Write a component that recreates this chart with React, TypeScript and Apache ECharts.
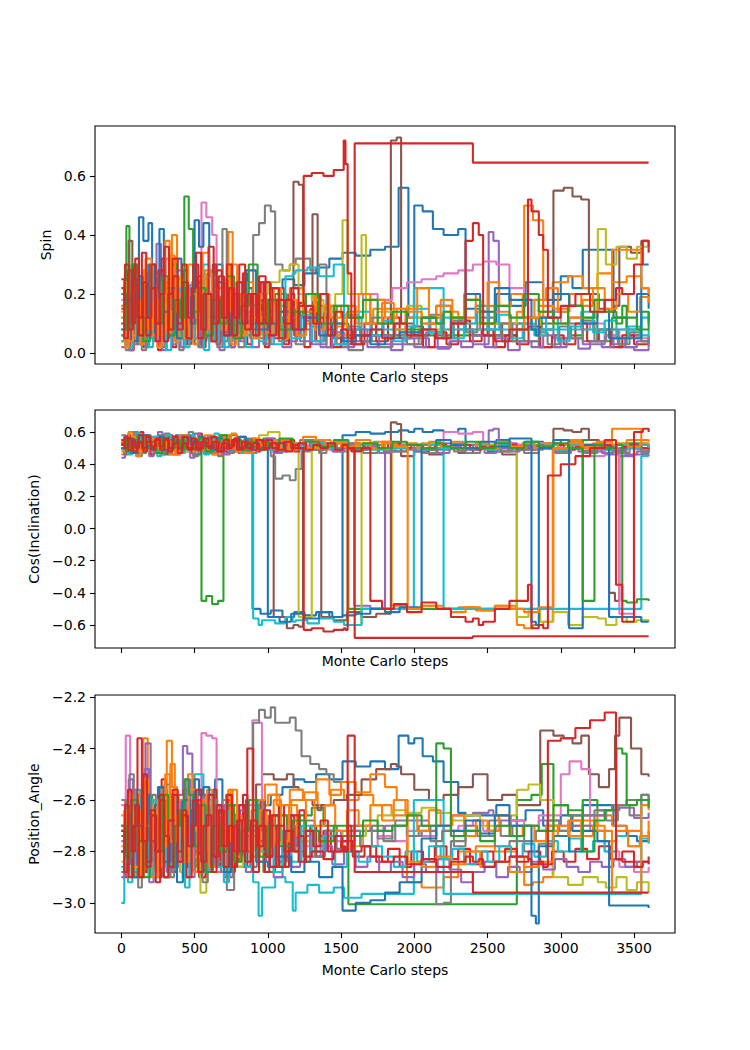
import React, { useEffect, useRef } from "react";
import * as echarts from "echarts";

// Each walker: [step, spin, cos(inclination), position_angle] — state from that step on
const W_BLUE_A = [[0,0.12,0.52,-2.72],[30,0.05,0.48,-2.85],[60,0.22,0.55,-2.62],[95,0.08,0.5,-2.78],[120,0.46,0.57,-2.58],[150,0.38,0.53,-2.66],[185,0.44,0.55,-2.6],[210,0.15,0.49,-2.8],[250,0.28,0.56,-2.55],[290,0.06,0.47,-2.9],[330,0.18,0.52,-2.7],[370,0.32,0.58,-2.6],[410,0.1,0.5,-2.82],[450,0.2,0.54,-2.68],[500,0.03,0.46,-2.88],[540,0.25,0.53,-2.64],[590,0.12,0.57,-2.74],[640,0.3,0.5,-2.52],[690,0.08,0.55,-2.8],[740,0.18,0.48,-2.66],[790,0.05,0.53,-2.86],[840,0.22,0.5,-2.7],[895,0.2,-0.5,-2.7],[950,0.24,-0.53,-2.62],[1020,0.22,-0.51,-2.58],[1100,0.25,-0.55,-2.55],[1180,0.23,-0.52,-2.52],[1250,0.27,-0.54,-2.53],[1330,0.29,-0.52,-2.5],[1420,0.32,-0.55,-2.52],[1510,0.34,0.58,-2.45],[1600,0.33,0.6,-2.47],[1700,0.35,0.59,-2.45],[1800,0.36,0.6,-2.48],[1893,0.56,0.61,-2.35],[1960,0.12,0.6,-2.38],[2000,0.5,0.62,-2.36],[2057,0.48,0.6,-2.43],[2127,0.42,0.61,-2.45],[2200,0.4,0.6,-2.53],[2300,0.42,0.62,-2.65],[2350,0.15,0.52,-2.66],[2450,0.1,0.5,-2.66],[2560,0.2,0.55,-2.62],[2650,0.16,0.5,-2.68],[2760,0.24,0.54,-2.64],[2880,0.18,0.52,-2.7],[3000,0.26,0.55,-2.66],[3080,0.22,0.5,-2.72],[3150,0.35,0.52,-2.62],[3360,0.12,0.5,-2.7],[3450,0.08,0.52,-2.74],[3520,0.2,0.5,-2.76],[3600,0.15,0.48,-2.72]];
const W_ORANGE_A = [[0,0.1,0.46,-2.7],[25,0.2,0.52,-2.6],[60,0.06,0.55,-2.82],[100,0.24,0.49,-2.66],[150,0.14,0.56,-2.36],[180,0.3,0.51,-2.6],[220,0.08,0.47,-2.84],[260,0.2,0.54,-2.62],[310,0.12,0.57,-2.37],[345,0.4,0.5,-2.55],[380,0.16,0.53,-2.72],[420,0.06,0.48,-2.9],[470,0.22,0.55,-2.64],[520,0.1,0.51,-2.78],[570,0.28,0.58,-2.58],[620,0.04,0.46,-2.88],[680,0.18,0.53,-2.7],[730,0.41,0.55,-2.56],[760,0.2,0.5,-2.66],[810,0.08,0.54,-2.84],[860,0.16,0.49,-2.74],[920,0.1,0.52,-2.62],[1000,0.14,0.55,-2.58],[1080,0.08,0.5,-2.66],[1160,0.12,0.53,-2.6],[1250,0.1,0.51,-2.57],[1340,0.16,0.55,-2.62],[1430,0.09,0.5,-2.56],[1520,0.13,0.53,-2.6],[1620,0.1,0.5,-2.58],[1720,0.15,0.54,-2.62],[1845,0.15,-0.48,-2.66],[1950,0.12,-0.5,-2.92],[2050,0.1,-0.48,-2.94],[2200,0.14,-0.5,-2.9],[2300,0.12,-0.49,-2.8],[2420,0.16,-0.51,-2.78],[2550,0.1,-0.48,-2.8],[2700,0.14,-0.6,-2.82],[2750,0.5,-0.62,-2.93],[2810,0.45,-0.6,-2.92],[2880,0.12,-0.58,-2.9],[2945,0.24,0.52,-2.72],[3050,0.26,0.55,-2.68],[3150,0.22,0.5,-2.7],[3250,0.27,0.54,-2.66],[3350,0.24,0.52,-2.7],[3450,0.26,0.55,-2.72],[3550,0.22,0.52,-2.74],[3600,0.2,0.5,-2.68]];
const W_GREEN_A = [[0,0.06,0.5,-2.88],[34,0.43,0.56,-2.76],[55,0.2,0.6,-2.62],[90,0.04,0.52,-2.9],[130,0.16,0.47,-2.7],[170,0.28,0.55,-2.58],[210,0.08,0.5,-2.84],[250,0.22,0.58,-2.66],[290,0.12,0.46,-2.9],[335,0.3,0.53,-2.6],[380,0.05,0.5,-2.8],[420,0.18,0.56,-2.68],[470,0.1,0.49,-2.86],[510,0.24,0.54,-2.64],[547,0.12,-0.45,-2.75],[580,0.1,-0.42,-2.74],[620,0.14,-0.47,-2.78],[660,0.1,-0.45,-2.76],[697,0.2,0.52,-2.62],[740,0.06,0.58,-2.86],[790,0.24,0.5,-2.68],[840,0.1,0.55,-2.8],[900,0.16,0.51,-2.7],[970,0.06,0.56,-2.88],[1050,0.2,0.5,-2.66],[1130,0.1,0.53,-2.74],[1220,0.14,0.5,-2.66],[1300,0.12,0.55,-2.63],[1380,0.16,0.52,-2.7],[1470,0.1,0.5,-2.74],[1550,0.06,-0.5,-3.005],[2700,0.1,0.52,-2.6],[2800,0.12,0.5,-2.58],[2870,0.08,0.53,-2.46],[2950,0.14,0.5,-2.62],[3050,0.06,0.52,-2.66],[3150,0.1,0.55,-2.6],[3250,0.04,0.51,-2.64],[3350,0.12,0.5,-2.62],[3450,0.06,0.53,-2.6],[3550,0.14,0.5,-2.58],[3600,0.1,0.52,-2.6]];
const W_RED_A = [[0,0.22,0.52,-2.72],[20,0.05,0.57,-2.88],[45,0.28,0.49,-2.56],[70,0.1,0.55,-2.8],[95,0.32,0.5,-2.62],[120,0.06,0.58,-2.9],[150,0.24,0.48,-2.5],[175,0.12,0.54,-2.84],[205,0.3,0.51,-2.66],[235,0.04,0.56,-2.92],[265,0.2,0.49,-2.6],[295,0.36,0.55,-2.74],[325,0.08,0.5,-2.86],[355,0.26,0.57,-2.58],[385,0.1,0.47,-2.8],[415,0.3,0.53,-2.64],[445,0.05,0.5,-2.9],[480,0.22,0.56,-2.7],[510,0.34,0.49,-2.56],[545,0.08,0.54,-2.84],[580,0.2,0.51,-2.66],[615,0.04,0.57,-2.88],[650,0.28,0.48,-2.62],[685,0.12,0.53,-2.78],[720,0.3,0.5,-2.58],[755,0.06,0.55,-2.86],[790,0.24,0.49,-2.68],[825,0.1,0.54,-2.8],[860,0.2,0.5,-2.4],[900,0.06,0.53,-2.88],[940,0.26,0.49,-2.7],[985,0.1,0.55,-2.82],[1030,0.22,0.5,-2.66],[1075,0.05,0.53,-2.86],[1120,0.18,0.48,-2.72],[1170,0.08,0.52,-2.8],[1210,0.16,0.5,-2.74],[1245,0.6,-0.63,-2.82],[1300,0.61,-0.62,-2.8],[1380,0.6,-0.64,-2.83],[1450,0.62,-0.63,-2.8],[1518,0.72,-0.62,-2.78],[1530,0.64,-0.63,-2.8],[1545,0.27,0.5,-2.7],[1570,0.03,0.48,-2.8],[1640,0.06,0.5,-2.78],[1700,0.08,-0.45,-2.82],[1780,0.05,-0.5,-2.84],[1860,0.1,-0.47,-2.82],[1950,0.06,-0.52,-2.85],[2050,0.08,-0.46,-2.83],[2150,0.05,-0.5,-2.86],[2250,0.1,-0.55,-2.84],[2350,0.38,-0.58,-2.82],[2400,0.44,-0.56,-2.84],[2440,0.4,-0.6,-2.83],[2470,0.06,-0.58,-2.86],[2550,0.04,-0.5,-2.84],[2650,0.08,-0.45,-2.82],[2776,0.52,-0.35,-2.83],[2800,0.48,-0.62,-2.85],[2850,0.4,-0.6,-2.84],[2880,0.35,-0.62,-2.86],[2912,0.12,0.33,-2.37],[3000,0.16,0.4,-2.36],[3100,0.2,0.45,-2.32],[3200,0.14,0.5,-2.29],[3300,0.18,0.55,-2.26],[3377,0.22,-0.35,-2.83],[3420,0.2,-0.58,-2.84],[3500,0.3,0.6,-2.86],[3560,0.38,0.62,-2.84],[3600,0.34,0.6,-2.85]];
const W_PURPLE = [[0,0.04,0.53,-2.76],[40,0.14,0.48,-2.64],[85,0.06,0.55,-2.84],[130,0.2,0.5,-2.56],[165,0.1,0.57,-2.38],[200,0.24,0.51,-2.6],[240,0.37,0.54,-2.66],[270,0.12,0.47,-2.8],[310,0.2,0.53,-2.7],[350,0.06,0.49,-2.86],[390,0.16,0.56,-2.58],[420,0.1,0.52,-2.39],[450,0.22,0.55,-2.42],[485,0.05,0.48,-2.78],[530,0.18,0.54,-2.68],[580,0.08,0.5,-2.82],[630,0.14,0.56,-2.66],[680,0.04,0.51,-2.88],[730,0.12,0.55,-2.72],[790,0.06,0.49,-2.8],[850,0.16,0.54,-2.68],[920,0.05,0.5,-2.76],[1000,0.1,0.53,-2.82],[1100,0.04,0.5,-2.78],[1200,0.08,0.52,-2.74],[1300,0.03,0.49,-2.8],[1400,0.06,0.53,-2.72],[1500,0.02,0.5,-2.76],[1590,0.04,-0.48,-2.7],[1700,0.06,-0.5,-2.72],[1800,0.03,0.48,-2.7],[1950,0.05,0.5,-2.68],[2100,0.02,0.53,-2.7],[2250,0.04,0.5,-2.66],[2400,0.03,0.52,-2.65],[2508,0.41,0.61,-2.64],[2540,0.38,0.62,-2.66],[2577,0.1,0.53,-2.68],[2700,0.04,0.5,-2.7],[2850,0.02,0.52,-2.68],[3000,0.05,0.5,-2.7],[3150,0.03,0.48,-2.66],[3300,0.06,0.46,-2.64],[3400,0.02,0.45,-2.63],[3500,0.01,0.46,-2.67],[3600,0.02,0.45,-2.65]];
const W_BROWN = [[0,0.1,0.5,-2.74],[50,0.38,0.55,-2.6],[75,0.12,0.48,-2.82],[115,0.2,0.54,-2.66],[160,0.06,0.58,-2.88],[200,0.16,0.5,-2.7],[245,0.1,0.53,-2.8],[290,0.24,0.47,-2.62],[335,0.06,0.55,-2.86],[380,0.18,0.51,-2.72],[430,0.1,0.56,-2.78],[480,0.22,0.5,-2.64],[530,0.04,0.54,-2.9],[580,0.16,0.48,-2.7],[630,0.08,0.55,-2.8],[690,0.2,0.51,-2.66],[740,0.06,0.53,-2.84],[800,0.14,0.5,-2.72],[860,0.08,0.55,-2.6],[920,0.12,0.51,-2.54],[960,0.18,0.53,-2.5],[1040,0.14,-0.55,-2.52],[1130,0.12,-0.62,-2.5],[1175,0.58,-0.6,-2.55],[1210,0.57,-0.61,-2.56],[1240,0.12,0.5,-2.6],[1305,0.47,0.52,-2.62],[1340,0.1,0.5,-2.64],[1365,0.08,-0.55,-2.62],[1450,0.05,-0.57,-2.6],[1540,0.08,-0.52,-2.58],[1640,0.06,-0.55,-2.52],[1740,0.1,-0.53,-2.48],[1840,0.72,0.66,-2.46],[1880,0.73,0.65,-2.47],[1910,0.1,0.45,-2.5],[2000,0.06,0.48,-2.56],[2100,0.1,0.46,-2.6],[2200,0.05,0.5,-2.58],[2300,0.08,0.47,-2.55],[2400,0.06,0.5,-2.5],[2500,0.1,0.48,-2.6],[2600,0.04,0.46,-2.58],[2700,0.08,0.5,-2.62],[2860,0.1,0.52,-2.33],[2950,0.55,0.62,-2.35],[3020,0.56,0.61,-2.36],[3080,0.53,0.6,-2.38],[3140,0.52,0.62,-2.35],[3192,0.2,0.55,-2.5],[3260,0.15,0.5,-2.55],[3330,0.14,-0.4,-2.48],[3370,0.16,-0.45,-2.35],[3400,0.36,0.5,-2.28],[3480,0.34,0.52,-2.4],[3550,0.38,0.5,-2.5],[3600,0.36,0.51,-2.51]];
const W_PINK = [[0,0.18,0.5,-2.62],[30,0.06,0.56,-2.35],[60,0.22,0.49,-2.7],[100,0.1,0.54,-2.84],[140,0.28,0.5,-2.6],[180,0.08,0.57,-2.78],[220,0.2,0.48,-2.66],[260,0.12,0.55,-2.86],[300,0.32,0.51,-2.62],[340,0.06,0.53,-2.8],[385,0.18,0.49,-2.7],[430,0.1,0.56,-2.76],[480,0.24,0.5,-2.64],[520,0.08,0.54,-2.82],[547,0.51,0.52,-2.34],[580,0.46,0.55,-2.35],[620,0.4,0.5,-2.36],[650,0.12,0.53,-2.7],[700,0.2,0.49,-2.8],[750,0.06,0.55,-2.66],[800,0.16,0.5,-2.76],[850,0.1,0.53,-2.62],[895,0.2,0.5,-2.29],[940,0.14,0.52,-2.3],[960,0.1,0.49,-2.72],[1050,0.14,0.53,-2.76],[1150,0.08,0.5,-2.72],[1250,0.12,0.52,-2.78],[1350,0.1,0.49,-2.74],[1450,0.16,0.53,-2.76],[1550,0.12,0.5,-2.72],[1650,0.2,0.52,-2.78],[1750,0.18,0.5,-2.74],[1850,0.22,0.52,-2.76],[1950,0.24,0.5,-2.72],[2050,0.25,0.53,-2.74],[2150,0.26,0.52,-2.7],[2200,0.27,0.6,-2.72],[2300,0.28,0.59,-2.7],[2400,0.3,0.6,-2.68],[2470,0.31,0.52,-2.72],[2560,0.3,0.5,-2.7],[2650,0.22,0.52,-2.68],[2750,0.18,0.5,-2.7],[2850,0.14,0.53,-2.66],[3000,0.1,0.5,-2.5],[3060,0.12,0.52,-2.45],[3140,0.08,0.5,-2.48],[3200,0.1,0.45,-2.72],[3300,0.06,0.5,-2.8],[3400,0.08,-0.53,-2.86],[3500,0.05,0.5,-2.88],[3600,0.06,0.52,-2.86]];
const W_GRAY = [[0,0.06,0.52,-2.8],[35,0.2,0.47,-2.64],[75,0.1,0.55,-2.88],[115,0.26,0.5,-2.58],[155,0.04,0.53,-2.78],[195,0.18,0.49,-2.7],[240,0.08,0.56,-2.84],[285,0.22,0.5,-2.62],[330,0.12,0.54,-2.76],[375,0.28,0.48,-2.66],[420,0.06,0.53,-2.9],[465,0.16,0.5,-2.7],[510,0.1,0.55,-2.82],[560,0.2,0.47,-2.64],[610,0.08,0.52,-2.86],[660,0.14,0.45,-2.72],[690,0.42,0.5,-2.6],[720,0.12,0.47,-2.95],[770,0.2,0.52,-2.7],[830,0.1,0.49,-2.8],[900,0.4,0.55,-2.3],[940,0.44,0.5,-2.25],[980,0.5,0.52,-2.28],[1020,0.48,0.45,-2.24],[1050,0.3,0.31,-2.3],[1100,0.28,0.33,-2.3],[1150,0.3,0.3,-2.28],[1190,0.32,0.37,-2.33],[1230,0.32,0.48,-2.43],[1290,0.28,0.5,-2.46],[1350,0.3,0.47,-2.48],[1400,0.02,0.5,-2.5],[1450,0.03,0.48,-2.53],[1550,0.01,0.5,-2.7],[1650,0.04,0.47,-2.72],[1750,0.02,0.5,-2.75],[1850,0.06,0.48,-2.7],[1950,0.03,0.5,-2.74],[2050,0.08,0.47,-2.72],[2150,0.05,0.5,-3.005],[2200,0.06,0.49,-3.0],[2250,0.1,0.5,-2.76],[2350,0.08,0.47,-2.72],[2450,0.12,0.5,-2.74],[2550,0.06,0.48,-2.78],[2650,0.1,0.5,-2.76],[2750,0.04,0.47,-2.8],[2850,0.08,0.5,-2.77],[2950,0.05,0.48,-2.74],[3050,0.1,0.5,-2.7],[3150,0.04,0.47,-2.66],[3250,0.08,0.5,-2.64],[3350,0.03,0.48,-2.62],[3450,0.06,0.5,-2.6],[3550,0.04,0.47,-2.58],[3600,0.05,0.48,-2.6]];
const W_OLIVE = [[0,0.12,0.55,-2.84],[30,0.24,0.5,-2.66],[70,0.06,0.53,-2.9],[110,0.18,0.48,-2.7],[150,0.1,0.56,-2.8],[190,0.3,0.51,-2.6],[230,0.08,0.54,-2.86],[270,0.2,0.49,-2.68],[310,0.12,0.56,-2.78],[355,0.26,0.5,-2.62],[400,0.06,0.54,-2.88],[440,0.18,0.48,-2.72],[490,0.1,0.55,-2.82],[540,0.22,0.5,-2.96],[580,0.08,0.53,-2.74],[630,0.16,0.49,-2.8],[680,0.1,0.56,-2.68],[730,0.24,0.51,-2.76],[780,0.08,0.54,-2.86],[830,0.2,0.5,-2.7],[880,0.12,0.55,-2.78],[940,0.2,0.58,-2.66],[1000,0.24,0.6,-2.7],[1080,0.28,0.55,-2.74],[1150,0.3,0.52,-2.72],[1210,0.2,-0.55,-2.76],[1300,0.18,0.5,-2.8],[1380,0.14,0.52,-2.76],[1460,0.2,0.5,-2.74],[1510,0.45,0.53,-2.72],[1545,0.2,-0.6,-2.78],[1640,0.4,0.5,-2.74],[1670,0.1,0.52,-2.7],[1750,0.14,0.5,-2.66],[1850,0.1,0.52,-2.64],[1950,0.16,0.5,-2.65],[2050,0.12,0.53,-2.63],[2150,0.08,0.5,-2.65],[2250,0.12,0.52,-2.68],[2350,0.1,0.5,-2.66],[2450,0.14,0.52,-2.7],[2550,0.1,0.5,-2.66],[2700,0.12,-0.55,-2.56],[2780,0.08,-0.5,-2.54],[2860,0.14,-0.58,-2.6],[2950,0.1,-0.52,-2.9],[3050,0.16,-0.6,-2.93],[3150,0.12,-0.55,-2.9],[3253,0.42,-0.56,-2.92],[3308,0.3,-0.6,-2.94],[3380,0.36,-0.55,-2.9],[3450,0.32,-0.58,-2.95],[3520,0.36,-0.57,-2.92],[3600,0.38,-0.58,-2.96]];
const W_CYAN = [[0,0.16,0.5,-3.0],[20,0.08,0.55,-2.7],[55,0.24,0.49,-2.82],[95,0.1,0.54,-2.6],[135,0.2,0.5,-2.78],[175,0.06,0.56,-2.66],[220,0.26,0.48,-2.86],[265,0.12,0.53,-2.58],[310,0.18,0.5,-2.74],[355,0.08,0.55,-2.84],[400,0.22,0.49,-2.64],[450,0.1,0.54,-2.8],[500,0.14,0.5,-2.5],[560,0.3,0.53,-2.62],[600,0.26,0.48,-2.76],[640,0.08,0.55,-2.86],[690,0.2,0.5,-2.68],[740,0.12,0.54,-2.8],[800,0.18,0.49,-2.7],[850,0.06,0.53,-2.84],[900,0.1,-0.56,-2.92],[937,0.12,-0.6,-3.05],[960,0.1,-0.57,-2.94],[1050,0.16,-0.59,-2.9],[1120,0.26,-0.55,-2.92],[1170,0.27,-0.58,-3.03],[1190,0.28,-0.57,-2.96],[1270,0.29,-0.59,-2.93],[1350,0.26,-0.56,-2.96],[1450,0.3,-0.58,-2.94],[1520,0.12,-0.6,-2.98],[1640,0.08,-0.5,-2.965],[1997,0.22,0.5,-2.6],[2200,0.08,-0.5,-2.965],[3550,0.12,0.45,-2.6],[3600,0.12,0.45,-2.6]];
const W_PURPLE_B = [[0,0.02,0.44,-2.9],[25,0.1,0.52,-2.7],[50,0.01,0.6,-2.52],[80,0.14,0.47,-2.86],[105,0.03,0.55,-2.62],[135,0.2,0.5,-2.78],[160,0.02,0.58,-2.48],[190,0.12,0.45,-2.92],[220,0.04,0.53,-2.66],[250,0.18,0.6,-2.8],[280,0.01,0.48,-2.56],[310,0.1,0.54,-2.88],[345,0.03,0.46,-2.7],[375,0.15,0.57,-2.6],[405,0.02,0.5,-2.84],[440,0.22,0.55,-2.52],[470,0.05,0.44,-2.9],[500,0.12,0.59,-2.68],[535,0.02,0.51,-2.8],[565,0.17,0.47,-2.58],[600,0.04,0.56,-2.86],[635,0.13,0.5,-2.72],[670,0.01,0.58,-2.62],[705,0.09,0.46,-2.9],[740,0.02,0.53,-2.7],[775,0.16,0.49,-2.82],[810,0.04,0.57,-2.64],[850,0.11,0.48,-2.88],[890,0.02,0.54,-2.72],[940,0.14,0.5,-2.84],[990,0.03,0.56,-2.68],[1040,0.1,0.47,-2.9],[1100,0.02,0.53,-2.76],[1160,0.12,0.49,-2.86],[1220,0.04,0.55,-2.74],[1290,0.09,0.5,-2.82],[1360,0.02,0.53,-2.78],[1440,0.07,0.48,-2.85],[1520,0.03,0.52,-2.8],[1600,0.08,0.49,-2.86],[1680,0.02,0.51,-2.82],[1760,0.06,0.47,-2.88],[1840,0.01,0.5,-2.84],[1920,0.05,0.52,-2.9],[2000,0.02,0.48,-2.85],[2080,0.07,0.5,-2.88],[2160,0.015,0.47,-2.83],[2240,0.04,0.51,-2.87],[2320,0.02,0.49,-2.92],[2400,0.06,0.5,-2.88],[2480,0.02,0.47,-2.84],[2560,0.05,0.5,-2.9],[2640,0.01,0.48,-2.86],[2720,0.04,0.51,-2.88],[2800,0.02,0.49,-2.84],[2880,0.06,0.5,-2.87],[2960,0.02,0.47,-2.83],[3040,0.05,0.5,-2.86],[3120,0.015,0.48,-2.88],[3200,0.04,0.5,-2.84],[3280,0.02,0.47,-2.86],[3360,0.05,0.49,-2.83],[3440,0.02,0.46,-2.86],[3520,0.04,0.48,-2.84],[3600,0.02,0.47,-2.85]];
const W_GRAY_B = [[0,0.08,0.58,-2.6],[30,0.01,0.47,-2.84],[55,0.16,0.53,-2.5],[85,0.03,0.6,-2.76],[115,0.12,0.45,-2.94],[140,0.01,0.52,-2.66],[170,0.24,0.57,-2.82],[200,0.05,0.49,-2.58],[235,0.15,0.55,-2.88],[265,0.02,0.46,-2.7],[295,0.2,0.59,-2.54],[330,0.06,0.51,-2.9],[360,0.13,0.56,-2.66],[395,0.01,0.48,-2.8],[425,0.19,0.54,-2.6],[460,0.04,0.6,-2.86],[490,0.11,0.45,-2.72],[525,0.02,0.55,-2.56],[555,0.16,0.5,-2.92],[590,0.05,0.57,-2.7],[620,0.21,0.47,-2.6],[655,0.02,0.53,-2.84],[690,0.12,0.58,-2.66],[725,0.04,0.48,-2.9],[760,0.18,0.55,-2.62],[800,0.02,0.5,-2.8],[840,0.14,0.56,-2.7],[880,0.05,0.47,-2.86],[925,0.17,0.53,-2.6],[970,0.03,0.5,-2.78],[1020,0.12,0.55,-2.66],[1075,0.04,0.48,-2.84],[1130,0.15,0.53,-2.7],[1190,0.03,0.5,-2.8],[1250,0.11,0.55,-2.68],[1320,0.04,0.49,-2.82],[1390,0.1,0.53,-2.72],[1470,0.03,0.5,-2.79],[1550,0.09,0.53,-2.72],[1630,0.04,0.49,-2.78],[1710,0.12,0.52,-2.7],[1790,0.06,0.48,-2.76],[1870,0.1,0.51,-2.68],[1950,0.03,0.49,-2.74],[2030,0.08,0.52,-2.7],[2110,0.13,0.49,-2.76],[2190,0.05,0.51,-2.72],[2270,0.11,0.48,-2.78],[2350,0.07,0.5,-2.7],[2430,0.14,0.53,-2.74],[2510,0.06,0.5,-2.68],[2590,0.1,0.48,-2.74],[2670,0.04,0.51,-2.7],[2750,0.12,0.49,-2.76],[2830,0.07,0.52,-2.72],[2910,0.03,0.5,-2.68],[2990,0.09,0.47,-2.72],[3070,0.05,0.5,-2.66],[3150,0.11,0.48,-2.7],[3230,0.04,0.51,-2.64],[3310,0.08,0.49,-2.68],[3390,0.03,0.47,-2.62],[3470,0.07,0.5,-2.66],[3550,0.04,0.48,-2.6],[3600,0.06,0.49,-2.62]];
const W_CYAN_B = [[0,0.04,0.5,-2.86],[20,0.18,0.56,-2.64],[45,0.02,0.46,-2.92],[75,0.12,0.53,-2.7],[100,0.26,0.59,-2.56],[130,0.05,0.48,-2.84],[155,0.15,0.54,-2.66],[185,0.02,0.5,-2.9],[215,0.21,0.57,-2.6],[245,0.06,0.45,-2.8],[275,0.14,0.53,-2.7],[305,0.01,0.58,-2.86],[340,0.18,0.49,-2.58],[370,0.04,0.55,-2.82],[400,0.11,0.47,-2.68],[435,0.02,0.52,-2.94],[465,0.23,0.58,-2.62],[500,0.05,0.5,-2.78],[530,0.13,0.55,-2.66],[565,0.01,0.46,-2.88],[600,0.17,0.53,-2.6],[635,0.04,0.59,-2.82],[665,0.12,0.49,-2.7],[700,0.02,0.54,-2.92],[735,0.2,0.5,-2.64],[770,0.05,0.56,-2.8],[810,0.13,0.47,-2.7],[850,0.02,0.53,-2.86],[895,0.16,0.5,-2.62],[940,0.04,0.55,-2.8],[990,0.14,0.49,-2.7],[1040,0.03,0.54,-2.88],[1100,0.12,0.5,-2.72],[1160,0.05,0.53,-2.84],[1230,0.13,0.49,-2.7],[1300,0.04,0.54,-2.8],[1380,0.1,0.5,-2.74],[1460,0.03,0.53,-2.86],[1540,0.08,0.5,-2.8],[1620,0.14,0.52,-2.84],[1700,0.06,0.49,-2.78],[1780,0.11,0.53,-2.82],[1860,0.04,0.5,-2.86],[1940,0.09,0.52,-2.8],[2020,0.15,0.49,-2.84],[2100,0.07,0.52,-2.78],[2180,0.12,0.5,-2.83],[2260,0.05,0.53,-2.79],[2340,0.1,0.5,-2.85],[2420,0.16,0.52,-2.8],[2500,0.08,0.49,-2.84],[2580,0.13,0.52,-2.78],[2660,0.05,0.5,-2.82],[2740,0.1,0.53,-2.77],[2820,0.06,0.5,-2.82],[2900,0.12,0.52,-2.76],[2980,0.04,0.49,-2.8],[3060,0.09,0.52,-2.75],[3140,0.14,0.5,-2.8],[3220,0.07,0.52,-2.76],[3300,0.11,0.49,-2.8],[3380,0.05,0.52,-2.74],[3460,0.09,0.5,-2.78],[3540,0.06,0.52,-2.75],[3600,0.08,0.5,-2.77]];
const W_ORANGE_C = [[0,0.14,0.48,-2.66],[25,0.02,0.55,-2.88],[50,0.25,0.6,-2.58],[75,0.06,0.5,-2.8],[100,0.18,0.45,-2.64],[130,0.03,0.54,-2.9],[155,0.28,0.58,-2.52],[185,0.08,0.49,-2.76],[215,0.17,0.55,-2.62],[245,0.02,0.47,-2.86],[275,0.24,0.56,-2.56],[305,0.07,0.5,-2.78],[335,0.33,0.53,-2.46],[365,0.04,0.46,-2.84],[395,0.2,0.58,-2.6],[425,0.09,0.51,-2.74],[455,0.3,0.55,-2.5],[490,0.03,0.48,-2.88],[520,0.22,0.57,-2.64],[555,0.06,0.5,-2.8],[585,0.27,0.54,-2.56],[620,0.04,0.46,-2.86],[650,0.19,0.56,-2.66],[685,0.08,0.5,-2.78],[715,0.25,0.53,-2.58],[750,0.03,0.59,-2.84],[785,0.2,0.48,-2.66],[820,0.06,0.54,-2.8],[860,0.24,0.5,-2.6],[900,0.05,0.56,-2.82],[945,0.2,0.49,-2.64],[990,0.07,0.54,-2.78],[1040,0.22,0.5,-2.6],[1090,0.05,0.55,-2.76],[1145,0.18,0.49,-2.62],[1200,0.06,0.53,-2.74],[1260,0.2,0.5,-2.6],[1320,0.08,0.55,-2.7],[1390,0.16,0.51,-2.62],[1460,0.06,0.54,-2.72],[1540,0.14,0.5,-2.64],[1620,0.2,0.53,-2.7],[1700,0.1,0.5,-2.62],[1780,0.17,0.54,-2.68],[1860,0.08,0.51,-2.6],[1940,0.15,0.53,-2.66],[2020,0.22,0.5,-2.72],[2100,0.12,0.54,-2.64],[2180,0.18,0.51,-2.7],[2260,0.1,0.54,-2.66],[2340,0.2,0.5,-2.74],[2420,0.14,0.53,-2.68],[2500,0.24,0.5,-2.72],[2580,0.16,0.54,-2.66],[2660,0.2,0.51,-2.74],[2740,0.12,0.53,-2.7],[2820,0.18,0.5,-2.76],[2900,0.22,0.53,-2.7],[2980,0.14,0.5,-2.74],[3060,0.2,0.54,-2.68],[3140,0.16,0.51,-2.74],[3220,0.22,0.53,-2.7],[3300,0.15,0.5,-2.76],[3380,0.2,0.53,-2.72],[3460,0.14,0.51,-2.78],[3540,0.19,0.53,-2.74],[3600,0.17,0.52,-2.76]];
const W_RED_C = [[0,0.25,0.53,-2.7],[20,0.04,0.46,-2.9],[40,0.2,0.58,-2.6],[60,0.01,0.51,-2.82],[85,0.3,0.55,-2.56],[105,0.08,0.47,-2.78],[130,0.22,0.6,-2.64],[150,0.02,0.5,-2.88],[175,0.27,0.54,-2.58],[200,0.06,0.46,-2.84],[225,0.18,0.57,-2.66],[250,0.01,0.5,-2.9],[275,0.32,0.55,-2.52],[300,0.05,0.48,-2.8],[325,0.24,0.58,-2.62],[350,0.02,0.51,-2.88],[375,0.2,0.46,-2.66],[400,0.07,0.55,-2.82],[425,0.28,0.5,-2.56],[450,0.03,0.57,-2.86],[475,0.18,0.47,-2.64],[500,0.05,0.53,-2.8],[525,0.26,0.59,-2.6],[550,0.02,0.49,-2.9],[575,0.21,0.55,-2.62],[600,0.06,0.47,-2.84],[625,0.3,0.54,-2.56],[650,0.03,0.5,-2.86],[675,0.19,0.57,-2.64],[700,0.07,0.48,-2.8],[725,0.25,0.55,-2.6],[750,0.02,0.5,-2.88],[775,0.2,0.56,-2.66],[800,0.05,0.47,-2.82],[830,0.27,0.54,-2.58],[860,0.03,0.5,-2.86],[890,0.2,0.56,-2.64],[920,0.06,0.48,-2.8],[950,0.24,0.54,-2.6],[980,0.02,0.5,-2.88],[1010,0.18,0.55,-2.66],[1040,0.05,0.48,-2.82],[1075,0.22,0.53,-2.62],[1110,0.03,0.5,-2.86],[1145,0.2,0.55,-2.66],[1180,0.06,0.48,-2.8],[1215,0.17,0.53,-2.64],[1250,0.02,0.5,-2.84],[1290,0.15,0.54,-2.7],[1330,0.04,0.49,-2.82],[1380,0.12,0.53,-2.72],[1430,0.02,0.5,-2.8],[1500,0.08,0.52,-2.76],[1580,0.03,0.49,-2.82],[1660,0.1,0.52,-2.78],[1740,0.04,0.5,-2.84],[1820,0.12,0.53,-2.79],[1900,0.05,0.5,-2.86],[1980,0.09,0.52,-2.8],[2060,0.02,0.49,-2.84],[2140,0.07,0.52,-2.78],[2220,0.03,0.5,-2.83],[2300,0.11,0.52,-2.79],[2380,0.04,0.49,-2.85],[2460,0.08,0.51,-2.8],[2540,0.02,0.5,-2.84],[2620,0.06,0.52,-2.79],[2700,0.03,0.49,-2.84],[2780,0.09,0.51,-2.8],[2860,0.02,0.5,-2.85],[2940,0.06,0.52,-2.8],[3020,0.03,0.49,-2.84],[3100,0.1,0.51,-2.79],[3180,0.04,0.5,-2.83],[3260,0.08,0.52,-2.78],[3340,0.02,0.49,-2.83],[3420,0.06,0.51,-2.8],[3500,0.03,0.5,-2.84],[3600,0.05,0.51,-2.82]];
const W_BLUE_B = [[0,0.08,0.5,-2.8],[35,0.18,0.56,-2.66],[70,0.04,0.47,-2.9],[110,0.26,0.53,-2.7],[145,0.12,0.58,-2.58],[190,0.3,0.5,-2.76],[230,0.07,0.54,-2.62],[260,0.42,0.57,-2.55],[290,0.14,0.49,-2.84],[335,0.22,0.55,-2.68],[380,0.05,0.51,-2.92],[420,0.19,0.58,-2.6],[470,0.1,0.5,-2.78],[500,0.45,0.55,-2.52],[530,0.36,0.57,-2.58],[560,0.44,0.53,-2.55],[600,0.12,0.49,-2.82],[650,0.24,0.56,-2.64],[700,0.06,0.5,-2.88],[750,0.2,0.54,-2.7],[800,0.1,0.57,-2.8],[850,0.28,0.51,-2.6],[920,0.08,0.55,-2.84],[1000,0.1,-0.55,-2.86],[1080,0.14,-0.58,-2.82],[1160,0.08,-0.53,-2.88],[1250,0.12,-0.56,-2.84],[1350,0.06,-0.52,-2.9],[1440,0.1,-0.55,-2.86],[1510,0.04,-0.54,-3.03],[1600,0.06,-0.53,-3.0],[1700,0.03,-0.5,-2.99],[1800,0.05,-0.52,-2.96],[1900,0.07,-0.49,-2.92],[2050,0.12,0.5,-2.75],[2150,0.16,0.55,-2.7],[2250,0.1,0.52,-2.72],[2350,0.2,0.5,-2.68],[2450,0.14,0.54,-2.73],[2550,0.22,0.51,-2.66],[2650,0.18,0.56,-2.7],[2800,0.08,-0.58,-3.05],[2830,0.06,-0.6,-3.08],[2850,0.12,0.5,-2.78],[2950,0.2,0.55,-2.74],[3057,0.16,-0.62,-2.8],[3150,0.1,0.52,-2.72],[3250,0.14,0.5,-2.76],[3330,0.05,-0.55,-3.01],[3550,0.3,-0.58,-3.01],[3600,0.3,-0.58,-3.02]];
const W_ORANGE_B = [[0,0.16,0.54,-2.78],[40,0.04,0.5,-2.64],[80,0.22,0.57,-2.86],[120,0.1,0.48,-2.58],[165,0.32,0.53,-2.7],[205,0.06,0.56,-2.9],[250,0.18,0.5,-2.6],[300,0.38,0.55,-2.5],[330,0.14,0.46,-2.76],[375,0.25,0.52,-2.66],[425,0.05,0.58,-2.84],[460,0.2,0.51,-2.56],[510,0.12,0.54,-2.72],[555,0.34,0.49,-2.6],[600,0.08,0.55,-2.86],[650,0.22,0.52,-2.64],[700,0.14,0.58,-2.76],[745,0.3,0.5,-2.56],[790,0.06,0.53,-2.82],[840,0.2,0.47,-2.68],[900,0.12,0.52,-2.6],[980,0.18,0.55,-2.54],[1060,0.1,0.5,-2.62],[1150,0.22,0.53,-2.56],[1240,0.14,0.57,-2.6],[1330,0.2,0.5,-2.52],[1420,0.12,0.53,-2.58],[1500,0.16,0.51,-2.53],[1600,0.1,0.55,-2.57],[1700,0.18,0.5,-2.5],[1800,0.12,0.53,-2.55],[1880,0.15,0.51,-2.6],[1955,0.14,-0.5,-2.84],[2050,0.1,-0.48,-2.86],[2150,0.16,-0.5,-2.82],[2250,0.12,-0.52,-2.85],[2350,0.18,-0.49,-2.8],[2450,0.1,-0.51,-2.86],[2550,0.14,-0.48,-2.84],[2650,0.08,-0.5,-2.88],[2750,0.12,-0.52,-2.86],[2850,0.16,-0.49,-2.84],[2950,0.15,0.5,-2.7],[3050,0.12,0.53,-2.74],[3150,0.18,0.5,-2.68],[3250,0.14,0.54,-2.72],[3350,0.35,0.62,-2.96],[3550,0.22,0.55,-2.62],[3600,0.2,0.54,-2.64]];
const W_GREEN_B = [[0,0.2,0.55,-2.7],[30,0.08,0.48,-2.82],[70,0.3,0.53,-2.6],[110,0.12,0.58,-2.76],[150,0.04,0.5,-2.9],[195,0.22,0.54,-2.66],[240,0.1,0.47,-2.8],[280,0.26,0.56,-2.58],[320,0.06,0.5,-2.86],[365,0.18,0.55,-2.7],[400,0.12,0.49,-2.64],[430,0.53,0.57,-2.52],[460,0.42,0.54,-2.58],[490,0.14,0.5,-2.78],[530,0.22,0.56,-2.62],[575,0.06,0.48,-2.88],[625,0.18,0.54,-2.7],[675,0.1,0.58,-2.8],[720,0.26,0.52,-2.62],[770,0.05,0.55,-2.84],[820,0.16,0.49,-2.72],[870,0.3,0.54,-2.6],[930,0.1,0.5,-2.82],[1000,0.18,0.53,-2.7],[1080,0.08,0.56,-2.78],[1170,0.14,0.5,-2.68],[1260,0.2,0.54,-2.72],[1350,0.1,0.51,-2.76],[1450,0.16,0.55,-2.7],[1550,0.12,0.5,-2.74],[1650,0.18,0.53,-2.68],[1750,0.1,0.5,-2.72],[1850,0.14,0.54,-2.7],[1950,0.08,0.52,-2.66],[2050,0.12,0.5,-2.7],[2150,0.1,0.53,-2.38],[2200,0.14,0.51,-2.4],[2250,0.12,0.5,-2.74],[2350,0.18,0.54,-2.72],[2450,0.1,0.5,-2.76],[2550,0.16,0.53,-2.7],[2650,0.12,0.5,-2.74],[2750,0.2,0.54,-2.7],[2850,0.14,0.51,-2.72],[2950,0.1,0.53,-2.62],[3050,0.16,0.5,-2.64],[3150,0.12,-0.45,-2.8],[3230,0.18,0.52,-2.68],[3300,0.14,0.5,-2.64],[3380,0.1,0.52,-2.4],[3420,0.16,-0.45,-2.42],[3450,0.12,-0.46,-2.62],[3520,0.08,-0.44,-2.6],[3600,0.14,-0.45,-2.63]];
const W_RED_B = [[0,0.15,0.55,-2.8],[25,0.3,0.5,-2.62],[50,0.08,0.56,-2.9],[80,0.25,0.48,-2.7],[110,0.12,0.54,-2.36],[140,0.34,0.5,-2.76],[170,0.06,0.57,-2.86],[200,0.22,0.49,-2.64],[230,0.1,0.55,-2.8],[260,0.28,0.51,-2.58],[290,0.04,0.56,-2.9],[320,0.2,0.48,-2.68],[350,0.32,0.53,-2.56],[385,0.08,0.5,-2.84],[420,0.24,0.57,-2.66],[455,0.12,0.49,-2.78],[490,0.3,0.54,-2.6],[525,0.05,0.5,-2.88],[560,0.2,0.56,-2.7],[595,0.36,0.5,-2.58],[630,0.1,0.54,-2.82],[665,0.26,0.48,-2.64],[700,0.06,0.55,-2.86],[735,0.22,0.51,-2.7],[770,0.12,0.56,-2.8],[805,0.3,0.5,-2.62],[845,0.08,0.53,-2.84],[885,0.2,0.49,-2.68],[925,0.1,0.55,-2.78],[970,0.24,0.5,-2.64],[1015,0.06,0.53,-2.86],[1060,0.18,0.49,-2.7],[1110,0.1,0.54,-2.8],[1160,0.22,0.5,-2.66],[1210,0.08,0.53,-2.84],[1260,0.16,0.49,-2.72],[1310,0.1,0.52,-2.78],[1360,0.2,0.5,-2.68],[1410,0.06,0.53,-2.8],[1460,0.14,0.49,-2.74],[1510,0.08,0.52,-2.8],[1545,0.05,0.5,-2.35],[1593,0.71,-0.68,-2.88],[2400,0.645,-0.67,-2.96],[3600,0.645,-0.67,-2.96]];

// drawing order (later = on top) and tab10 colour index of each walker
const WALKERS = [W_BLUE_A, W_ORANGE_A, W_GREEN_A, W_PURPLE, W_BROWN, W_PINK, W_GRAY, W_OLIVE, W_RED_C, W_CYAN, W_PURPLE_B, W_GRAY_B, W_CYAN_B, W_ORANGE_C, W_BLUE_B, W_ORANGE_B, W_GREEN_B, W_RED_A, W_RED_B];
const WALKER_COLOR = [0, 1, 2, 4, 5, 6, 7, 8, 3, 9, 4, 7, 9, 1, 0, 1, 2, 3, 3];
const COLORS = ["#1f77b4", "#ff7f0e", "#2ca02c", "#d62728", "#9467bd", "#8c564b", "#e377c2", "#7f7f7f", "#bcbd22", "#17becf"];

const STEP_TICKS = [0, 500, 1000, 1500, 2000, 2500, 3000, 3500];
const SPIN_TICKS = [0.0, 0.2, 0.4, 0.6];
const COS_TICKS = [-0.6, -0.4, -0.2, 0.0, 0.2, 0.4, 0.6];
const PA_TICKS = [-3.0, -2.8, -2.6, -2.4, -2.2];

const PANELS = [
  { label: "Spin", col: 1, min: -0.037, max: 0.769, ticks: SPIN_TICKS, top: 126, nameGap: 42, showX: false },
  { label: "Cos(Inclination)", col: 2, min: -0.743, max: 0.737, ticks: COS_TICKS, top: 410, nameGap: 50, showX: false },
  { label: "Position_Angle", col: 3, min: -3.117, max: -2.192, ticks: PA_TICKS, top: 695, nameGap: 50, showX: true },
];

const FONT = "DejaVu Sans";
const fmtY = (v: number) => (v < -1e-9 ? "\u2212" : "") + Math.abs(v).toFixed(1);

export default function App() {
  const ref = useRef<HTMLDivElement>(null);
  useEffect(() => {
    document.body.style.margin = "0";
    if (!ref.current) return;
    const chart = echarts.init(ref.current, null, { renderer: "svg" });
    const grid = PANELS.map((p) => ({
      left: 95, top: p.top, width: 580, height: 238,
      show: true, borderColor: "#000", borderWidth: 1.1, backgroundColor: "transparent",
    }));
    const xAxis = PANELS.map((p, i) => ({
      type: "value", gridIndex: i, min: -180, max: 3780,
      name: "Monte Carlo steps", nameLocation: "middle", nameGap: p.showX ? 30 : 6,
      nameTextStyle: { fontFamily: FONT, fontSize: 14, color: "#000", verticalAlign: "top" },
      axisLine: { show: false, onZero: false },
      splitLine: { show: false },
      axisTick: { show: true, inside: false, length: 5, customValues: STEP_TICKS, lineStyle: { color: "#000", width: 1.1 } },
      axisLabel: { show: p.showX, customValues: STEP_TICKS, margin: 8, fontFamily: FONT, fontSize: 14, color: "#000", formatter: (v: number) => String(v) },
    }));
    const yAxis = PANELS.map((p, i) => ({
      type: "value", gridIndex: i, min: p.min, max: p.max,
      name: p.label, nameLocation: "middle", nameGap: p.nameGap, nameRotate: 90,
      nameTextStyle: { fontFamily: FONT, fontSize: 14, color: "#000" },
      axisLine: { show: false, onZero: false },
      splitLine: { show: false },
      axisTick: { show: true, inside: false, length: 5, customValues: p.ticks, lineStyle: { color: "#000", width: 1.1 } },
      axisLabel: { show: true, customValues: p.ticks, margin: 9, fontFamily: FONT, fontSize: 14, color: "#000", formatter: fmtY },
    }));
    const series: any[] = [];
    PANELS.forEach((p, pi) => {
      WALKERS.forEach((w, wi) => {
        series.push({
          type: "line", xAxisIndex: pi, yAxisIndex: pi, step: "end",
          showSymbol: false, symbol: "none", silent: true,
          lineStyle: { width: 2.1, color: COLORS[WALKER_COLOR[wi]] },
          data: w.map((r) => [r[0], r[p.col]]),
        });
      });
    });
    chart.setOption({ animation: false, grid, xAxis, yAxis, series });
    return () => chart.dispose();
  }, []);
  return <div ref={ref} style={{ width: 750, height: 1050 }} />;
}
